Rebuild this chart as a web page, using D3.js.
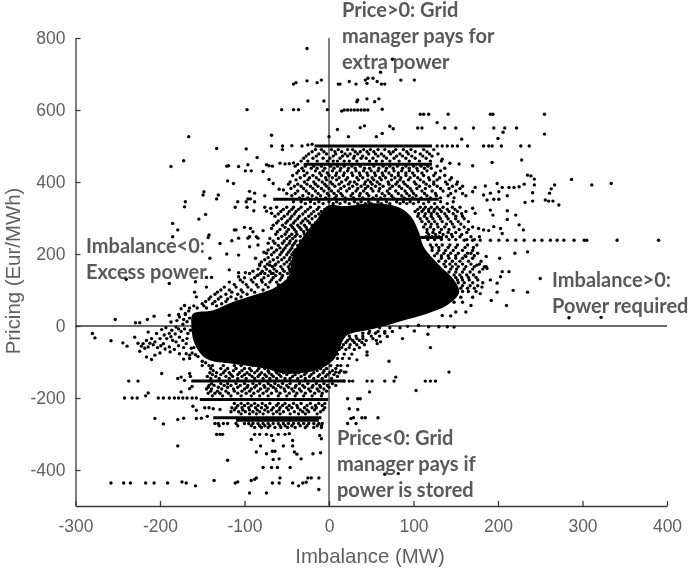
<!DOCTYPE html>
<html>
<head>
<meta charset="utf-8">
<script src="https://cdn.jsdelivr.net/npm/d3@7"></script>
<style>
  html, body { margin: 0; background: #fff; }
  svg { display: block; filter: blur(0.35px); }
  .axis text { font-family: "Liberation Sans", Arial, sans-serif; font-size: 17.5px; fill: #606060; }
  .axis path, .axis line { stroke: #383838; stroke-width: 1.3px; }
  .axis-label { font-family: "Liberation Sans", Arial, sans-serif; font-size: 20.4px; fill: #606060; }
  .note { font-family: Lato, "Open Sans", sans-serif; font-weight: 700; font-size: 20px; fill: #595959; }
</style>
</head>
<body>
<div id="chart"></div>
<script>
const xTicks = [-300, -200, -100, 0, 100, 200, 300, 400];
const yTicks = [-400, -200, 0, 200, 400, 600, 800];

// the middle of the cloud is solid black, single dots can't be read there,
// so it is one shape following the edge of the black area
const coreImbalance = [-161, -137, -114, -90, -66, -52, -48, -42, -28, -15, -1, 18, 53, 81, 97, 107, 112, 132, 148, 154, 140, 116, 89, 69, 45, 26, 19, 5, -15, -54, -74, -114, -145, -159, -163];
const corePrice = [34, 44, 67, 85, 104, 127, 137, 202, 257, 294, 335, 333, 341, 331, 304, 257, 220, 165, 128, 94, 58, 34, 16, 2, -12, -21, -31, -95, -123, -132, -119, -105, -91, -49, 6];

// prices where the dots run together into a bar
const bandPrices = [500, 449, 352, 246, -153, -204, -255, -262];
const bandStart = [-17, -30, -66, 100, -163, -153, -137, -110];
const bandEnd = [122, 122, 130, 135, 19, -1, -9, -12];

const upperRows = [
  [490, [-16, -9, 3, 11, 22, 28, 41, 49, 58, 66, 79, 88, 97, 112, 124]],
  [484, [-20, -6, 7, 15, 31, 37, 45, 53, 71, 76, 92, 102, 116]],
  [478, [-24, -12, -3, 8, 19, 25, 34, 47, 55, 62, 73, 84, 94, 108, 119, 129]],
  [472, [-27, -15, 5, 16, 22, 30, 40, 58, 65, 80, 87, 98, 111, 122]],
  [466, [-30, -19, -7, 1, 13, 29, 38, 44, 52, 68, 77, 91, 102, 115]],
  [458, [-33, -25, -14, -2, 5, 10, 18, 24, 33, 48, 56, 63, 72, 83, 95, 107, 120, 133]],
  [444, [-40, -28, -18, -9, 2, 10, 18, 27, 37, 53, 64, 72, 81, 91, 100, 109, 117, 128]],
  [438, [-32, -21, -14, -5, 6, 14, 23, 31, 42, 48, 59, 68, 76, 87, 95, 104, 113, 121, 137]],
  [431, [-36, -30, -16, -7, 4, 13, 22, 32, 41, 50, 58, 67, 77, 86, 95, 105, 116, 132]],
  [425, [-38, -26, -11, -2, 9, 18, 27, 36, 45, 54, 63, 71, 82, 91, 99, 110, 126]],
  [418, [-43, -29, -19, -9, 0, 8, 17, 28, 37, 46, 55, 64, 74, 82, 91, 101, 112, 124, 137]],
  [412, [-34, -23, -15, -4, 4, 12, 22, 33, 40, 51, 60, 67, 78, 85, 96, 105, 118, 131, 145]],
  [406, [-39, -25, -12, -3, 9, 20, 35, 46, 53, 62, 74, 84, 94, 108, 119, 128, 143]],
  [400, [-46, -29, -18, -8, 2, 15, 25, 30, 43, 49, 57, 70, 81, 88, 101, 112, 124, 138, 152]],
  [394, [-48, -37, -26, -16, -5, 4, 12, 23, 33, 42, 51, 60, 71, 79, 90, 103, 115, 124, 140, 151]],
  [388, [-41, -33, -22, -13, -3, 7, 18, 28, 38, 46, 55, 64, 75, 83, 93, 107, 119, 128, 146, 158]],
  [382, [-45, -30, -19, -9, 0, 14, 24, 34, 43, 50, 60, 72, 86, 96, 104, 114, 132, 142, 155]],
  [375, [-37, -27, -16, -6, 3, 11, 21, 32, 41, 52, 59, 69, 79, 90, 98, 110, 122, 135, 150]],
  [368, [-50, -40, -24, -13, -2, 6, 14, 28, 37, 45, 63, 71, 82, 92, 100, 113, 126, 144, 158]],
  [362, [-44, -31, -20, -10, 0, 9, 16, 26, 36, 47, 56, 66, 74, 86, 95, 103, 116, 127, 141, 162]],
  [356, [-35, -25, -15, -4, 7, 19, 29, 40, 52, 61, 76, 89, 99, 109, 120, 132, 148]],
  [345, [-42, -33, -22, -12, 0, 9, 19, 30, 38, 47, 58, 68, 80, 88, 96, 106, 118, 132, 147]],
  [340, [-28, -17, -7, 5, 13, 24, 34, 43, 50, 62, 72, 84, 92, 100, 112, 125, 140]]
];

const rightRows = [
  [330, [108, 114, 121, 128, 135, 146, 155]],
  [324, [105, 112, 118, 125, 131, 140, 149]],
  [318, [102, 110, 118, 124, 133, 142, 152, 162]],
  [312, [106, 114, 121, 128, 137, 147, 157]],
  [305, [105, 113, 121, 130, 139, 150, 158]],
  [298, [108, 116, 123, 132, 141, 150, 160]],
  [290, [110, 118, 125, 134, 144, 153, 165]],
  [283, [114, 121, 128, 139, 146, 156]],
  [275, [112, 120, 129, 137, 148, 160, 170]],
  [268, [116, 124, 133, 142, 154, 165]],
  [260, [116, 123, 131, 141, 150, 163]],
  [254, [118, 126, 135, 145, 157]],
  [248, [115, 122, 130, 139, 146, 155, 168, 178]],
  [240, [117, 125, 133, 142, 150, 163, 172]],
  [225, [120, 127, 134, 143, 152, 164, 175]],
  [218, [122, 130, 141, 150, 161, 171]],
  [210, [122, 130, 138, 147, 158, 170]],
  [202, [128, 136, 144, 153, 164, 176]],
  [195, [125, 133, 141, 150, 161, 172]],
  [188, [133, 142, 150, 158, 170]],
  [180, [130, 138, 146, 155, 165, 180]],
  [172, [136, 143, 150, 158, 168, 178]],
  [165, [138, 146, 153, 162, 172, 186]],
  [158, [144, 151, 160, 170, 182]],
  [150, [142, 150, 158, 167, 178]],
  [142, [148, 155, 163, 171]],
  [135, [150, 157, 165, 174]],
  [128, [152, 158, 166, 176]],
  [120, [153, 160, 170, 182]],
  [112, [158, 167, 176]],
  [105, [156, 164, 172]],
  [96, [158, 165, 174]],
  [80, [148, 156, 170]],
  [66, [140, 148, 158]]
];

const leftRows = [
  [330, [-62, -50, -42, -33, -22, -12]],
  [324, [-54, -44, -36, -25, -14, -5, 3]],
  [318, [-57, -47, -39, -28, -18, -9, -2, 6]],
  [311, [-60, -49, -41, -31, -21, -12]],
  [305, [-64, -53, -44, -35, -24, -16, -8, 4, 14]],
  [298, [-56, -46, -37, -28, -20, -10, -3]],
  [292, [-60, -49, -40, -31, -25, -13]],
  [286, [-62, -51, -42, -33, -23, -16]],
  [280, [-66, -55, -45, -37, -29, -20]],
  [274, [-52, -43, -35, -27, -18]],
  [268, [-58, -48, -41, -33, -26]],
  [262, [-61, -50, -39, -30, -24]],
  [255, [-63, -52, -44, -38, -29]],
  [249, [-56, -47, -40, -34, -26]],
  [243, [-70, -60, -50, -43]],
  [236, [-66, -53, -46, -39, -34]],
  [230, [-72, -64, -55, -47, -41]],
  [224, [-60, -50, -43, -37]],
  [217, [-68, -58, -52, -44]],
  [211, [-72, -62, -54, -46, -40]],
  [205, [-77, -65, -56, -48, -42]],
  [198, [-68, -58, -50, -44, -38]],
  [190, [-72, -61, -53, -46]],
  [184, [-76, -66, -56, -47, -41]],
  [178, [-80, -70, -60, -50, -44]],
  [172, [-82, -73, -63, -53, -46, -40]],
  [165, [-76, -67, -57, -48]],
  [158, [-84, -74, -65, -55, -47]],
  [152, [-90, -79, -70, -62, -53, -46]],
  [146, [-94, -81, -68, -58, -49]],
  [140, [-85, -72, -63, -55]],
  [134, [-100, -88, -77, -66, -56, -48]],
  [128, [-105, -92, -80, -68, -58]],
  [122, [-118, -102, -90, -79, -70, -62]],
  [115, [-112, -98, -86, -75, -60]],
  [108, [-124, -110, -96, -84, -72]],
  [100, [-128, -118, -104, -92, -78]],
  [94, [-132, -115, -102, -88]],
  [88, [-135, -122, -108, -97]],
  [81, [-140, -128, -116, -104]],
  [75, [-142, -131, -120, -110]],
  [68, [-146, -135, -122]],
  [62, [-150, -138, -127]],
  [56, [-160, -148, -133]],
  [50, [-165, -156, -145]],
  [32, [-178, -170]]
];

const lowerRows = [
  [-110, [-138, -125, -112, -104, -90, -80, -70, -52, -40, -25, -12, 2, 10]],
  [-118, [-140, -128, -120, -110, -100, -94, -83, -76, -66, -58, -45, -38, -30, -22, -10, -3, 8]],
  [-124, [-137, -123, -113, -103, -92, -85, -72, -63, -53, -42, -33, -25, -14, -6, 4, 14]],
  [-130, [-141, -133, -125, -118, -106, -97, -88, -80, -71, -62, -54, -48, -36, -27, -18, -7, 1, 12]],
  [-135, [-138, -128, -116, -108, -100, -94, -82, -76, -68, -59, -50, -40, -29, -21, -11, -2, 6]],
  [-140, [-144, -134, -122, -114, -103, -91, -84, -74, -66, -57, -43, -33, -23, -13, -4, 10]],
  [-146, [-140, -130, -118, -108, -98, -88, -78, -70, -62, -52, -46, -37, -28, -18, -8, 3]],
  [-160, [-139, -128, -120, -110, -100, -90, -82, -72, -64, -55, -46, -35, -25, -15, -6, 4]],
  [-165, [-142, -136, -124, -116, -105, -96, -86, -77, -69, -60, -50, -39, -31, -19, -11, -2, 8]],
  [-170, [-143, -131, -120, -108, -97, -88, -76, -66, -57, -48, -40, -29, -20, -10, 0]],
  [-175, [-145, -139, -127, -113, -100, -92, -81, -72, -63, -53, -44, -35, -24, -14, -6]],
  [-181, [-140, -132, -122, -112, -103, -94, -84, -74, -62, -52, -42, -33, -22, -12, -3]],
  [-187, [-143, -135, -129, -119, -108, -98, -89, -78, -68, -58, -47, -38, -28, -17, -8]],
  [-194, [-138, -126, -116, -104, -92, -82, -72, -60, -50, -40, -30, -20, -9]],
  [-215, [-112, -104, -96, -88, -79, -70, -60, -52, -42, -33, -22, -12, -5]],
  [-221, [-108, -100, -92, -84, -75, -62, -55, -47, -38, -26, -16, -8]],
  [-227, [-115, -110, -103, -95, -87, -80, -73, -66, -58, -50, -44, -37, -29, -20, -15, -5]],
  [-233, [-112, -102, -94, -85, -76, -68, -59, -48, -34, -26, -17, -7]],
  [-238, [-116, -107, -99, -90, -82, -72, -62, -54, -41, -31, -24, -10]],
  [-244, [-104, -94, -86, -78, -66, -58, -46, -36, -28, -14]],
  [-271, [-135, -131, -125, -120, -110, -100, -95, -90, -84, -78, -72, -66, -60, -54, -48, -42, -36, -30, -24, -18, -12, -8]],
  [-277, [-130, -108, -92, -82, -76, -70, -58, -52, -44, -34, -26, -14, -9]],
  [-282, [-88, -80, -72, -64, -57, -49, -40, -28, -18, -9]],
  [-5, [60, 72, 84]],
  [-15, [48, 58, 66, 75]],
  [-20, [40, 47, 55, 66]],
  [-28, [24, 32, 40, 50, 60]],
  [-35, [25, 33, 40, 52]],
  [-40, [22, 28, 36, 44, 56]],
  [-46, [20, 30, 39]],
  [-52, [17, 25, 33, 42]],
  [-60, [15, 24, 36]],
  [-65, [12, 20, 30]],
  [-78, [10, 18, 27]],
  [-90, [10, 16, 24]],
  [-110, [14, 22]],
  [-128, [8, 18, 20]]
];

// rows of dots that stick out of the cloud at a fixed price
const outerRows = [
  [600, [18, 22, 26, 30, 34, 38, 42, 46]],
  [500, [128, 134, 140, 146, 152, 164, 183, 189, 193, 204, 227, 237]],
  [238, [160, 170, 179, 191, 201, 211, 221, 231, 243, 252, 262, 270, 278, 290, 302, 305, 341, 390]],
  [-200, [-242, -233, -227, -202, -196, -189, -183, -178, -173, -168, -162, -157]],
  [-153, [-237, -226, 18, 24, 28, 45, 51, 66, 77, 114, 120, 126]],
  [-436, [-258, -243, -235, -217, -207, -191, -169, -111, -67, -59, -43, -31]],
  [-393, [-78, -68, -61, -46]],
  [-301, [-133, -129, -126, -88, -82, -74, -60, -52]]
];

// single scattered dots [imbalance, price]
const topPoints = [
  [-26, 771], [-42, 672], [-39, 676], [-26, 681], [-14, 676], [-9, 683], [11, 672], [13, 672], [-25, 625], [-6, 625],
  [-97, 601], [-56, 601], [-42, 601], [-36, 601], [-2, 601], [15, 597], [10, 546], [0, 526], [-68, 530], [-166, 526],
  [-187, 443], [-172, 459], [-133, 493], [-98, 492], [-68, 500], [-55, 500], [-55, 490], [-44, 501], [-32, 500], [-25, 503], [-20, 505],
  [-85, 468], [-121, 444], [-119, 445], [-107, 443], [-96, 448], [-99, 431], [-92, 431], [-74, 448], [-71, 445], [-67, 444], [-78, 429],
  [-58, 452], [-52, 450], [-47, 451], [-42, 453], [-37, 449],
  [-120, 403], [-113, 396], [-71, 407], [-66, 396], [-59, 380], [-54, 378], [-94, 374], [-88, 369], [-76, 362],
  [-148, 373], [-149, 364], [-131, 364], [-133, 353], [-170, 345], [-171, 331], [-108, 345], [-111, 330],
  [-96, 353], [-98, 345], [-93, 353], [-88, 345], [-97, 330], [-89, 320], [-76, 330], [-74, 319], [-69, 327], [-68, 313],
  [-146, 310], [-154, 297], [-185, 285], [-179, 267], [-185, 248], [-142, 253], [-143, 246], [-129, 229],
  [-112, 267], [-110, 267], [-100, 274], [-93, 271], [-90, 262], [-94, 248], [-86, 248], [-78, 265], [-68, 271],
  [-115, 237], [-107, 244], [-96, 244], [-84, 244], [-94, 220], [-84, 225], [-141, 188], [-121, 200], [-107, 197], [-87, 188], [-74, 202],
  [-118, 156], [-107, 148], [-99, 148], [-82, 168], [-70, 169], [-64, 169], [-145, 135], [-139, 135], [-240, 130], [-189, 118], [-158, 123],
  [-107, 137], [-84, 142], [-76, 146], [-66, 146],
  [61, 705], [75, 741], [24, 679], [32, 672], [45, 674], [43, 683], [46, 688], [52, 688], [57, 679], [62, 672], [66, 672], [85, 683], [101, 683],
  [34, 628], [33, 623], [45, 631], [54, 623], [59, 631], [63, 602], [108, 588], [112, 588], [118, 588], [141, 588], [191, 588], [194, 588], [255, 588],
  [37, 551], [42, 556], [72, 555], [76, 548], [105, 550], [110, 550], [128, 565], [137, 550], [150, 550], [171, 550], [195, 550], [208, 550], [206, 538], [222, 550],
  [255, 533], [23, 526], [56, 526], [63, 535], [157, 519], [200, 521],
  [134, 463], [143, 452], [154, 450], [170, 445], [193, 454], [228, 461]
];

const rightPoints = [
  [235, 419], [239, 417], [243, 408], [287, 407], [311, 392], [334, 396], [267, 392], [263, 381], [243, 392], [241, 370], [261, 369],
  [256, 350], [260, 347], [265, 347], [272, 336], [232, 343], [241, 347],
  [199, 396], [205, 385], [213, 385], [219, 385], [225, 387], [231, 394],
  [185, 389], [173, 385], [170, 373], [183, 364], [191, 369], [201, 373], [211, 362], [187, 350], [195, 352], [201, 352],
  [191, 322], [194, 308], [211, 320], [211, 296], [221, 308], [173, 313], [170, 327],
  [225, 281], [230, 267], [177, 271], [183, 267], [189, 265], [195, 276], [203, 271], [205, 257],
  [220, 202], [235, 206], [202, 188], [186, 193], [184, 165], [187, 160], [175, 169], [168, 202], [162, 193],
  [203, 137], [213, 151], [205, 151], [191, 128], [199, 119], [250, 132],
  [199, 94], [218, 99], [235, 94], [192, 71], [210, 57], [168, 57], [162, 39], [150, 39], [144, 28], [134, 29], [179, 90], [181, 108],
  [284, 23], [322, 24], [148, -3], [140, -2], [130, -2], [118, -2], [106, 2], [93, -1],
  [69, -29], [61, -44], [57, -49], [87, -35], [117, -23], [101, -14], [120, -60], [71, -98], [45, -72], [45, -81], [33, -94],
  [79, -142], [142, -128], [103, -179], [48, -183], [22, -202], [37, -202], [34, -202], [24, -230], [34, -232],
  [26, -257], [29, -255], [39, -255], [43, -255], [58, -255], [22, -271], [32, -271], [66, -412], [82, -410]
];

const leftPoints = [
  [-253, 18], [-280, -21], [-277, -33], [-258, -41], [-244, -47], [-239, -56], [-230, -31], [-229, 9], [-224, 9], [-207, 27], [-215, 18],
  [-220, -49], [-216, -40], [-214, -58], [-210, -35], [-206, -44], [-224, -70], [-216, -86], [-210, -93], [-206, -81], [-200, -75],
  [-214, -17], [-204, -21], [-200, -35], [-196, -49], [-192, -35], [-189, -21], [-187, 11], [-189, 30], [-185, -40], [-181, -44],
  [-177, -31], [-173, -40], [-169, -49], [-167, -21], [-177, -77], [-169, -77], [-165, -81], [-189, -58], [-181, -3], [-177, 25],
  [-171, 57], [-159, 94], [-157, 81], [-145, 108], [-175, 48],
  [-198, -10], [-193, -5], [-186, -12], [-182, -22], [-175, -15], [-171, -8], [-168, -35], [-164, -12], [-160, -60], [-163, -62],
  [-172, -60], [-178, -55], [-183, -65], [-188, -72], [-194, -64], [-199, -55], [-203, -60], [-208, -52], [-212, -48], [-218, -62],
  [-222, -56], [-226, -48], [-195, -25], [-187, -30], [-178, -8], [-173, 5], [-168, 12], [-165, 22], [-172, 18], [-180, 15],
  [-166, 42], [-170, 35], [-162, -75], [-158, -80], [-155, -85], [-150, -98], [-146, -102], [-142, -110], [-150, -110], [-165, -90], [-172, -92],
  [-217, -194], [-214, -186], [-175, -142], [-179, -146], [-171, -151], [-165, -132], [-164, -140], [-198, -132],
  [-175, -183], [-165, -174], [-162, -168], [-161, -223], [-157, -234], [-147, -227], [-142, -227], [-137, -230], [-129, -232],
  [-157, -257], [-151, -256], [-144, -251], [-206, -257], [-196, -272], [-179, -260], [-172, -256],
  [-179, -333], [-120, -373], [-174, -433], [-158, -444], [-136, -429], [-108, -433], [-92, -429], [-88, -426], [-86, -422],
  [-58, -422], [-36, -444], [-27, -434], [-25, -422], [-21, -422], [-12, -422], [-12, -454], [-94, -464], [-74, -464],
  [-66, -371], [-59, -369], [-33, -369], [-19, -355], [-10, -352], [-86, -350], [-74, -355], [-67, -348], [-64, -348],
  [-54, -333], [-43, -318], [-43, -333], [-41, -350], [-38, -356], [-66, -318], [-81, -333], [-92, -315], [-68, -304], [-47, -299], [-11, -304], [-9, -313]
];

const notes = [
  ["Price>0: Grid", "manager pays for", "extra power"],
  ["Imbalance<0:", "Excess power"],
  ["Imbalance>0:", "Power required"],
  ["Price<0: Grid", "manager pays if", "power is stored"]
];

const width = 689;
const height = 568;
const margin = { top: 38, right: 22, bottom: 62, left: 75.5 };

const svg = d3.select("#chart")
  .append("svg")
  .attr("width", width)
  .attr("height", height);

const x = d3.scaleLinear()
  .domain([-300, 400])
  .range([margin.left, width - margin.right]);

const y = d3.scaleLinear()
  .domain([-500, 800])
  .range([height - margin.bottom, margin.top]);

// zero lines go under the dots
svg.append("line")
  .attr("x1", x(0)).attr("x2", x(0))
  .attr("y1", y(800)).attr("y2", y(-500))
  .attr("stroke", "#383838").attr("stroke-width", 1.3);

svg.append("line")
  .attr("x1", x(-300)).attr("x2", x(400))
  .attr("y1", y(0)).attr("y2", y(0))
  .attr("stroke", "#383838").attr("stroke-width", 1.3);

const dots = [
  ...[...upperRows, ...rightRows, ...leftRows, ...lowerRows, ...outerRows]
    .flatMap(([price, xs]) => xs.map(v => [v, price])),
  ...topPoints, ...rightPoints, ...leftPoints
];

const core = d3.line()
  .x((d, i) => x(coreImbalance[i]))
  .y((d, i) => y(corePrice[i]))
  .curve(d3.curveCatmullRomClosed);

svg.append("path")
  .attr("d", core(coreImbalance))
  .attr("fill", "#000");

svg.selectAll(".band")
  .data(bandPrices)
  .join("line")
  .attr("class", "band")
  .attr("x1", (d, i) => x(bandStart[i]))
  .attr("x2", (d, i) => x(bandEnd[i]))
  .attr("y1", d => y(d))
  .attr("y2", d => y(d))
  .attr("stroke", "#000")
  .attr("stroke-width", 3);

svg.selectAll(".dot")
  .data(dots)
  .join("circle")
  .attr("class", "dot")
  .attr("cx", d => x(d[0]))
  .attr("cy", d => y(d[1]))
  .attr("r", 1.7)
  .attr("fill", "#000");

svg.append("g")
  .attr("class", "axis")
  .attr("transform", `translate(0,${y(-500)})`)
  .call(d3.axisBottom(x).tickValues(xTicks).tickFormat(d => String(d)).tickSizeInner(-5).tickSizeOuter(0).tickPadding(14));

svg.append("g")
  .attr("class", "axis")
  .attr("transform", `translate(${x(-300)},0)`)
  .call(d3.axisLeft(y).tickValues(yTicks).tickFormat(d => String(d)).tickSizeInner(-5).tickSizeOuter(0).tickPadding(10));

svg.append("text")
  .attr("class", "axis-label")
  .attr("x", 370)
  .attr("y", 563)
  .attr("text-anchor", "middle")
  .text("Imbalance (MW)");

svg.append("text")
  .attr("class", "axis-label")
  .attr("transform", "translate(20,271) rotate(-90)")
  .attr("text-anchor", "middle")
  .text("Pricing (Eur/MWh)");

const notePlaces = [
  { left: 342, first: 17 },
  { left: 86, first: 253 },
  { left: 552, first: 287 },
  { left: 337, first: 445 }
];

notes.forEach((lines, i) => {
  svg.selectAll(null)
    .data(lines)
    .join("text")
    .attr("class", "note")
    .attr("x", notePlaces[i].left)
    .attr("y", (d, k) => notePlaces[i].first + k * 26)
    .text(d => d);
});
</script>
</body>
</html>
